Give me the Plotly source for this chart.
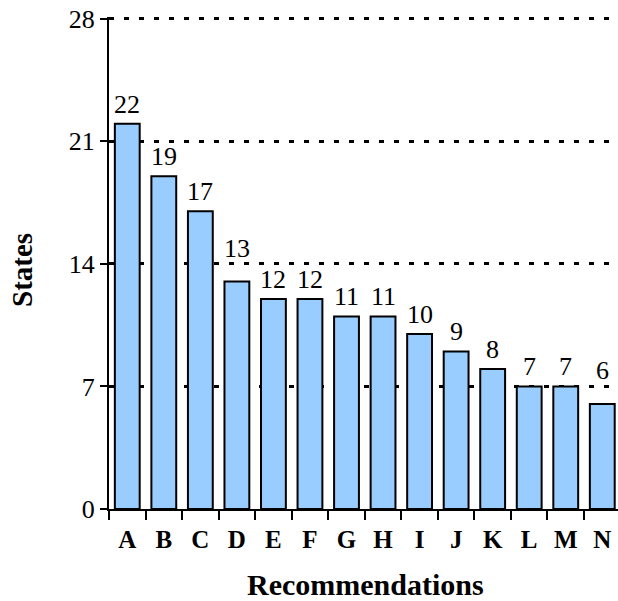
import plotly.graph_objects as go

categories = ["A", "B", "C", "D", "E", "F", "G", "H", "I", "J", "K", "L", "M", "N"]
states = [22, 19, 17, 13, 12, 12, 11, 11, 10, 9, 8, 7, 7, 6]
y_ticks = [0, 7, 14, 21, 28]

SERIF = "Liberation Serif, Times New Roman, serif"
PLOT_H = 490          # pixel height of 0..28
Y_MAX = 28
LABEL_SIZE = 26

fig = go.Figure()
fig.add_trace(go.Bar(
    x=categories,
    y=states,
    marker=dict(color="#99CCFF", line=dict(color="black", width=2)),
    hoverinfo="x+y",
))

# value labels above bars; lifted clear of a dotted gridline when they would collide
px_per_unit = PLOT_H / Y_MAX
base_gap = 10
digit_h = 0.68 * LABEL_SIZE
for cat, val in zip(categories, states):
    nxt = (val // 7 + 1) * 7
    d = (nxt - val) * px_per_unit
    gap = base_gap
    if gap - 3 < d < gap + digit_h + 3:
        gap = d + 6
    fig.add_annotation(
        x=cat, y=val, xref="x", yref="y",
        text=str(val), showarrow=False,
        yanchor="bottom", xanchor="center",
        yshift=gap - 7,
        font=dict(family=SERIF, size=LABEL_SIZE, color="black"),
    )

fig.update_layout(
    width=618,
    height=601,
    margin=dict(l=109, r=0, t=17, b=92),
    plot_bgcolor="white",
    paper_bgcolor="white",
    bargap=0.32,
    showlegend=False,
    font=dict(family=SERIF, color="black"),
)

fig.update_xaxes(
    type="category",
    range=[-0.5, 13.43],
    tickson="boundaries",
    ticks="outside",
    ticklen=9,
    tickwidth=2,
    tickcolor="black",
    showline=True,
    linecolor="black",
    linewidth=2,
    showgrid=False,
    ticklabelstandoff=7,
    ticklabeloverflow="allow",
    tickfont=dict(family=SERIF, size=25, color="black", weight="bold"),
)

fig.update_yaxes(
    range=[0, 28.1],
    tickvals=y_ticks,
    ticks="outside",
    ticklen=7,
    tickwidth=2,
    tickcolor="black",
    showline=True,
    linecolor="black",
    linewidth=2,
    showgrid=True,
    gridcolor="black",
    gridwidth=2.5,
    griddash="5px,10px",
    zeroline=False,
    ticklabeloverflow="allow",
    tickfont=dict(family=SERIF, size=26, color="black"),
)

fig.add_annotation(
    text="<b>States</b>", xref="paper", yref="paper",
    x=0, y=(509 - 270) / 492, xshift=-87, textangle=-90,
    showarrow=False, font=dict(family=SERIF, size=29, color="black"),
    xanchor="center", yanchor="middle",
)
fig.add_annotation(
    text="<b>Recommendations</b>", xref="paper", yref="paper",
    x=(365 - 109) / 509, y=0, yshift=-75,
    showarrow=False, font=dict(family=SERIF, size=30, color="black"),
    xanchor="center", yanchor="middle",
)

# remove the browser's default page margin so the 618x601 figure fills the window
fig.write_html(
    "out.html",
    config={"displayModeBar": False},
    post_script="document.body.style.margin='0';document.body.style.overflow='hidden';",
)
